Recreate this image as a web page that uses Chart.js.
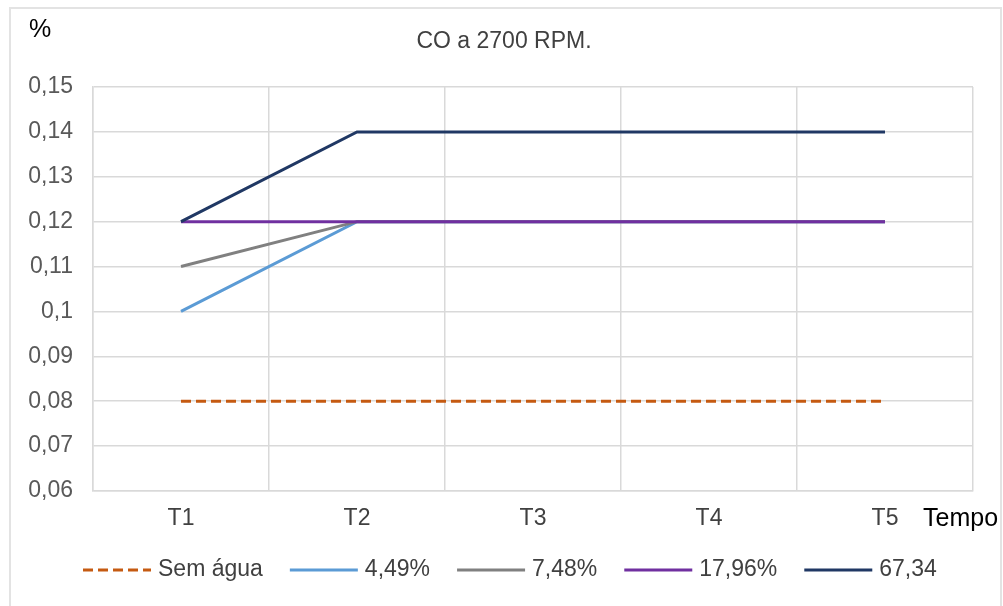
<!DOCTYPE html>
<html>
<head>
<meta charset="utf-8">
<script src="https://cdn.jsdelivr.net/npm/chart.js@4"></script>
<style>
html,body{margin:0;padding:0;background:#fff;}
#wrap{position:relative;width:1003px;height:606px;}
</style>
</head>
<body>
<div id="wrap"><canvas id="c" width="1003" height="606"></canvas></div>
<script>
const categories = ['T1','T2','T3','T4','T5'];
const semAgua = [0.08,0.08,0.08,0.08,0.08];
const s449 = [0.10,0.12,0.12,0.12,0.12];
const s748 = [0.11,0.12,0.12,0.12,0.12];
const s1796 = [0.12,0.12,0.12,0.12,0.12];
const s6734 = [0.12,0.14,0.14,0.14,0.14];
const seriesNames = ['Sem água','4,49%','7,48%','17,96%','67,34'];
const yTicks = [0.06,0.07,0.08,0.09,0.10,0.11,0.12,0.13,0.14,0.15];
const titleText = 'CO a 2700 RPM.';
const yUnit = '%';
const xName = 'Tempo';

const FONT = "'Liberation Sans', Arial, sans-serif";
const FS = 23;
const fmt = v => String(Number(v.toFixed(2))).replace('.', ',');

const extras = {
  id: 'extras',
  beforeDraw(chart) {
    const ctx = chart.ctx;
    ctx.save();
    ctx.fillStyle = '#fff';
    ctx.fillRect(0,0,chart.width,chart.height);
    ctx.strokeStyle = '#e3e3e3';
    ctx.lineWidth = 2;
    ctx.beginPath();
    ctx.moveTo(10, 620); ctx.lineTo(10, 8); ctx.lineTo(1001, 8); ctx.lineTo(1001, 620);
    ctx.stroke();
    ctx.restore();
  },
  afterDraw(chart) {
    const ctx = chart.ctx;
    ctx.save();
    ctx.textBaseline = 'middle';
    ctx.fillStyle = '#404040';
    ctx.font = FS + 'px ' + FONT;
    ctx.textAlign = 'center';
    ctx.fillText(titleText, 504, 42);
    ctx.fillStyle = '#000';
    ctx.textAlign = 'left';
    ctx.font = '25px ' + FONT;
    ctx.fillText(yUnit, 29, 30);
    ctx.fillText(xName, 923, 519);
    // legend
    let x = 83;
    const y = 570;
    chart.data.datasets.forEach((ds) => {
      ctx.strokeStyle = ds.borderColor;
      ctx.lineWidth = 3;
      ctx.setLineDash(ds.borderDash || []);
      ctx.beginPath();
      ctx.moveTo(x, y); ctx.lineTo(x + 68, y);
      ctx.stroke();
      ctx.setLineDash([]);
      x += 68 + 7;
      ctx.fillStyle = '#404040';
      ctx.font = FS + 'px ' + FONT;
      ctx.fillText(ds.label, x, y);
      x += ctx.measureText(ds.label).width + 27;
    });
    ctx.restore();
  }
};

const mk = (label, data, color, order, dash) => ({
  label, data, borderColor: color, backgroundColor: color, order,
  borderWidth: 3, borderDash: dash || [], pointRadius: 0, tension: 0, fill: false
});

new Chart(document.getElementById('c'), {
  type: 'line',
  data: {
    labels: categories,
    datasets: [
      mk(seriesNames[0], semAgua, '#C55A11', 5, [10, 5]),
      mk(seriesNames[1], s449, '#5B9BD5', 4),
      mk(seriesNames[2], s748, '#808080', 3),
      mk(seriesNames[3], s1796, '#7030A0', 2),
      mk(seriesNames[4], s6734, '#203864', 1)
    ]
  },
  options: {
    responsive: false,
    animation: false,
    devicePixelRatio: 1,
    layout: { padding: { left: 10, top: 87, right: 30, bottom: 0 } },
    plugins: { legend: { display: false }, title: { display: false }, tooltip: { enabled: false } },
    scales: {
      x: {
        type: 'category',
        offset: true,
        grid: { offset: true, color: '#d9d9d9', lineWidth: 1.5, drawTicks: false },
        border: { color: '#d9d9d9', width: 1.5 },
        ticks: { color: '#404040', font: { family: FONT, size: FS }, padding: 14, maxRotation: 0 },
        afterFit(s) { s.height = 115; }
      },
      y: {
        min: yTicks[0], max: yTicks[yTicks.length - 1],
        afterBuildTicks(s) { s.ticks = yTicks.map(v => ({ value: v })); },
        grid: { color: '#d9d9d9', lineWidth: 1.5, drawTicks: false },
        border: { color: '#d9d9d9', width: 1.5 },
        ticks: { color: '#595959', font: { family: FONT, size: FS }, padding: 20, callback: v => fmt(v) },
        afterFit(s) { s.width = 83; }
      }
    }
  },
  plugins: [extras]
});
</script>
</body>
</html>
